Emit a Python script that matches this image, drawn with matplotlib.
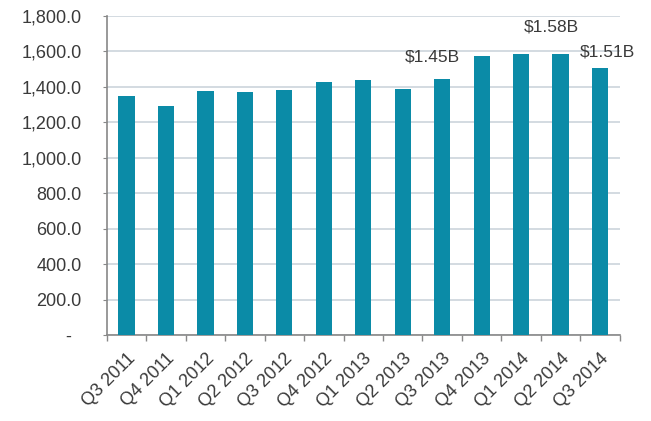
import numpy as np
import matplotlib.pyplot as plt
from matplotlib.ticker import FuncFormatter, MultipleLocator

quarters = ['Q3 2011', 'Q4 2011', 'Q1 2012', 'Q2 2012', 'Q3 2012', 'Q4 2012',
            'Q1 2013', 'Q2 2013', 'Q3 2013', 'Q4 2013', 'Q1 2014', 'Q2 2014',
            'Q3 2014']
revenue = [1348, 1295, 1375, 1373, 1383, 1430, 1439, 1388, 1446, 1573,
           1588, 1583, 1505]

note_text = ['$1.45B', '$1.58B', '$1.51B']
note_x = [7.75, 10.77, 12.2]
note_y = [1570, 1738, 1597]

bar_color = '#0b8ba7'
text_color = '#3a3a3a'

plt.rcParams['font.family'] = ['Liberation Sans', 'DejaVu Sans']

fig = plt.figure(figsize=(6.51, 4.21), dpi=100)
ax = fig.add_axes([0.164, 0.204, 0.788, 0.758])

x = np.arange(len(quarters))
ax.bar(x, revenue, width=0.41, color=bar_color, zorder=3)

for t, nx, ny in zip(note_text, note_x, note_y):
    ax.text(nx, ny, t, ha='center', va='center', fontsize=12.5, color=text_color)

ax.set_xlim(-0.5, len(quarters) - 0.5)
ax.set_ylim(0, 1800)
ax.yaxis.set_major_locator(MultipleLocator(200))


def fmt(v, pos):
    if v == 0:
        return '-  '
    return f'{v:,.1f}'


ax.yaxis.set_major_formatter(FuncFormatter(fmt))
ax.grid(axis='y', color='#ccd4dc', linewidth=1.2, zorder=0)

ax.set_xticks(x)
ax.set_xticklabels(quarters, rotation=45, ha='right', rotation_mode='anchor',
                   fontsize=13, color=text_color)
ax.set_xticks(np.arange(-0.5, len(quarters)), minor=True)
ax.tick_params(axis='x', which='major', length=0, pad=11)
ax.tick_params(axis='x', which='minor', length=4, color='#888888', width=1)
ax.tick_params(axis='y', length=3, color='#888888', labelsize=13,
               labelcolor=text_color, pad=15)

for s in ['top', 'right']:
    ax.spines[s].set_visible(False)
for s in ['left', 'bottom']:
    ax.spines[s].set_color('#888888')
    ax.spines[s].set_linewidth(1.2)

fig.savefig('out.png', dpi=100)
